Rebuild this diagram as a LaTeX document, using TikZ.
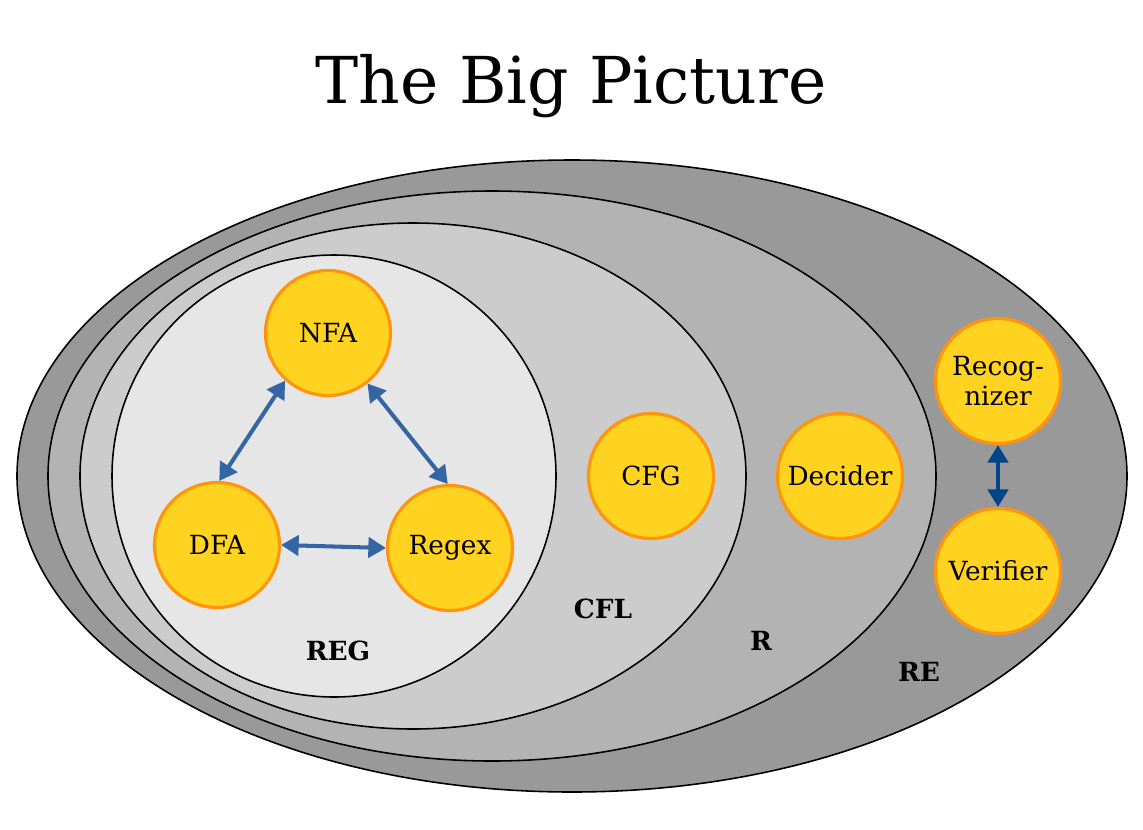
\documentclass[tikz,border=0pt]{standalone}
\usepackage{fontspec}
\setmainfont{DejaVu Serif}
\usetikzlibrary{arrows.meta}
\definecolor{reFill}{HTML}{999999}
\definecolor{rFill}{HTML}{B3B3B3}
\definecolor{cflFill}{HTML}{CCCCCC}
\definecolor{regFill}{HTML}{E6E6E6}
\definecolor{sunFill}{HTML}{FFD320}
\definecolor{sunLine}{HTML}{FF950E}
\definecolor{arrBlue}{HTML}{3465A4}
\definecolor{arrDark}{HTML}{004586}
\tikzset{
  classset/.style={draw=black, line width=0.9pt},
  machine/.style={circle, draw=sunLine, fill=sunFill, line width=1.8pt, minimum size=2.5cm, inner sep=0pt, align=center, font=\fontsize{15}{17}\selectfont},
  classlabel/.style={font=\fontsize{15}{17}\selectfont\bfseries},
  biarrow/.style={draw=arrBlue, line width=2.3pt, {Triangle[length=10pt,width=11.5pt]}-{Triangle[length=10pt,width=11.5pt]}},
}
\begin{document}
\begin{tikzpicture}[x=0.02cm, y=-0.02cm]
\useasboundingbox (0,0) rectangle (1143,829);
\fill[white] (0,0) rectangle (1143,829);
\node (title) at (571,86) {\fontsize{36.8}{40}\selectfont The Big Picture};
\draw[classset, fill=reFill] (572,476) ellipse [x radius=555, y radius=316];
\draw[classset, fill=rFill] (492,476) ellipse [x radius=444, y radius=285];
\draw[classset, fill=cflFill] (413,476) ellipse [x radius=333, y radius=253];
\draw[classset, fill=regFill] (334,476) ellipse [x radius=222, y radius=221];
\node[machine] (nfa) at (328,333) {NFA};
\node[machine] (dfa) at (217,545) {DFA};
\node[machine] (regex) at (450,548) {Regex};
\node[machine] (cfg) at (651,476) {CFG};
\node[machine] (decider) at (840,476) {Decider};
\node[machine] (recog) at (998,381) {Recog-\\nizer};
\node[machine] (verif) at (998,571) {Verifier};
\draw[biarrow] (nfa.228) -- (dfa.88);
\draw[biarrow] (nfa.-52) -- (regex.92);
\draw[biarrow] (dfa.0) -- (regex.180);
\draw[biarrow, draw=arrDark] (recog) -- (verif);
\node[classlabel] (reg) at (338,651) {REG};
\node[classlabel] (cfl) at (603,609) {CFL};
\node[classlabel] (r) at (761,641) {R};
\node[classlabel] (re) at (919,672) {RE};
\end{tikzpicture}
\end{document}
